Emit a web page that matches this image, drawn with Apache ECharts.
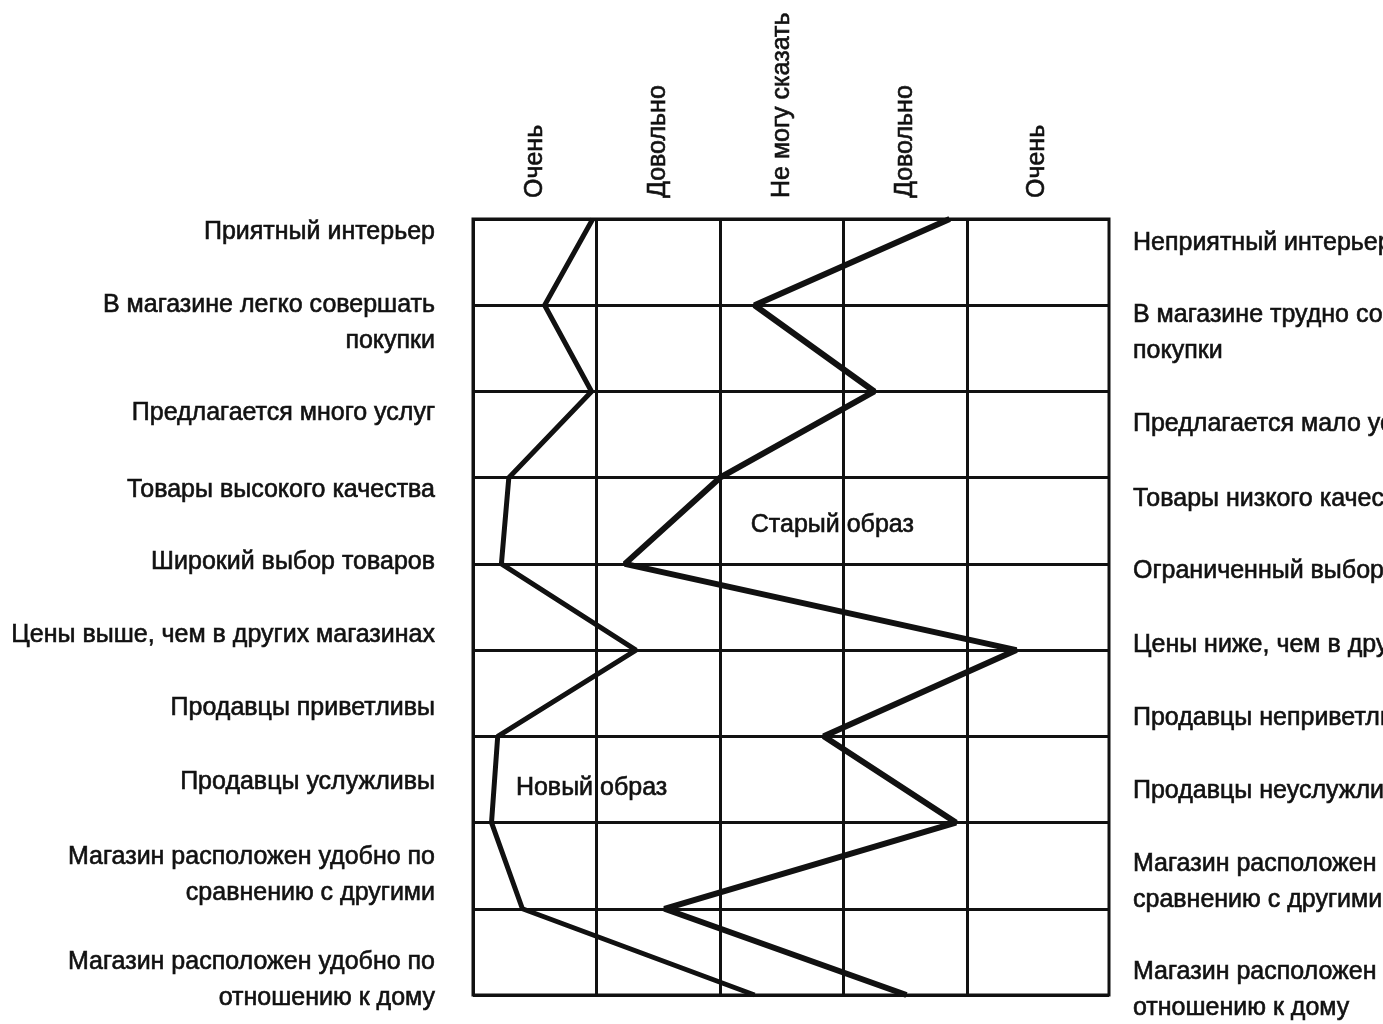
<!DOCTYPE html>
<html>
<head>
<meta charset="utf-8">
<script src="https://cdn.jsdelivr.net/npm/echarts@6/dist/echarts.min.js"></script>
<style>
  html, body { margin: 0; padding: 0; background: #fff; }
  #chart { width: 1383px; height: 1024px; }
</style>
</head>
<body>
<div id="chart"></div>
<script>
// scale headings (columns, left to right)
const scaleLabels = ['Очень', 'Довольно', 'Не могу сказать', 'Довольно', 'Очень'];

// attribute pairs, top to bottom
const leftNames = [
    'Приятный интерьер',
    'В магазине легко совершать\nпокупки',
    'Предлагается много услуг',
    'Товары высокого качества',
    'Широкий выбор товаров',
    'Цены выше, чем в других магазинах',
    'Продавцы приветливы',
    'Продавцы услужливы',
    'Магазин расположен удобно по\nсравнению с другими',
    'Магазин расположен удобно по\nотношению к дому'
];
const rightNames = [
    'Неприятный интерьер',
    'В магазине трудно совершать\nпокупки',
    'Предлагается мало услуг',
    'Товары низкого качества',
    'Ограниченный выбор товаров',
    'Цены ниже, чем в других магазинах',
    'Продавцы неприветливы',
    'Продавцы неуслужливы',
    'Магазин расположен неудобно по\nсравнению с другими',
    'Магазин расположен неудобно по\nотношению к дому'
];

// profile position of each row, in column units (0 = left edge)
const newImage = [0.97, 0.58, 0.96, 0.29, 0.23, 1.32, 0.20, 0.15, 0.40, 2.28];
const oldImage = [3.86, 2.28, 3.25, 2.00, 1.23, 4.40, 2.84, 3.91, 1.55, 3.51];

const seriesNames = ['Новый образ', 'Старый образ'];

// where the text sits in the printed figure (row units)
const leftLabelAt = [0.15, 1.21, 2.25, 3.14, 3.98, 4.83, 5.67, 6.53, 7.61, 8.83];
const rightLabelAt = [0.28, 1.32, 2.38, 3.25, 4.08, 4.94, 5.79, 6.64, 7.69, 8.94];
const headAt = [0.5, 1.5, 2.5, 3.5, 4.57];

const FONT = "'Liberation Sans', Arial, sans-serif";
const INK = '#111';

// slightly heavier type, like the printed figure
const inkText = { color: INK, fontFamily: FONT, fontSize: 25, textBorderColor: INK, textBorderWidth: 0.6 };

const nearest = (arr, v) => {
    let best = 0;
    arr.forEach((a, i) => { if (Math.abs(a - v) < Math.abs(arr[best] - v)) best = i; });
    return best;
};

const sideAxis = (pos, at, names, margin) => ({
    type: 'value',
    inverse: true,
    position: pos,
    min: 0,
    max: 9,
    axisLine: { show: false },
    axisTick: { show: false },
    splitLine: { show: false },
    axisLabel: Object.assign({
        customValues: at,
        formatter: (v) => names[nearest(at, v)],
        showMinLabel: true,
        showMaxLabel: true,
        hideOverlap: false,
        margin: margin,
        lineHeight: 36
    }, inkText)
});

const getOption = () => {
    return {
        animation: false,
        backgroundColor: '#fff',
        textStyle: { fontFamily: FONT },
        grid: {
            left: 473, right: 274, top: 219, bottom: 29,
            containLabel: false,
            outerBoundsMode: 'none',
            show: true, borderColor: INK, borderWidth: 3, backgroundColor: 'transparent'
        },
        xAxis: {
            type: 'value',
            position: 'top',
            min: 0,
            max: 5.15,
            interval: 1,
            axisLine: { show: false },
            axisTick: { show: false, customValues: [0, 1, 2, 3, 4] },
            splitLine: { show: true, lineStyle: { color: INK, width: 3 } },
            axisLabel: Object.assign({
                customValues: headAt,
                formatter: (v) => scaleLabels[nearest(headAt, v)],
                showMinLabel: true,
                showMaxLabel: true,
                rotate: 90,
                margin: 21
            }, inkText)
        },
        yAxis: [
            {
                type: 'value',
                inverse: true,
                min: 0,
                max: 9,
                interval: 1,
                axisLine: { show: false },
                axisTick: { show: false },
                axisLabel: { show: false },
                splitLine: { show: true, lineStyle: { color: INK, width: 3 } }
            },
            sideAxis('left', leftLabelAt, leftNames, 38),
            sideAxis('right', rightLabelAt, rightNames, 24)
        ],
        series: [
            {
                name: seriesNames[0],
                type: 'line',
                data: newImage.map((v, i) => [v, i]),
                symbol: 'none',
                lineStyle: { color: INK, width: 5 },
                markPoint: {
                    symbol: 'circle',
                    symbolSize: 0,
                    label: Object.assign({ show: true, formatter: seriesNames[0] }, inkText),
                    data: [{ coord: [0.96, 6.6] }]
                }
            },
            {
                name: seriesNames[1],
                type: 'line',
                data: oldImage.map((v, i) => [v, i]),
                symbol: 'none',
                lineStyle: { color: INK, width: 6 },
                markPoint: {
                    symbol: 'circle',
                    symbolSize: 0,
                    label: Object.assign({ show: true, formatter: seriesNames[1] }, inkText),
                    data: [{ coord: [2.91, 3.55] }]
                }
            }
        ]
    };
};

const initChart = () => {
    const chart = echarts.init(document.getElementById('chart'));
    chart.setOption(getOption());
};

window.addEventListener('load', () => {
    initChart();
});
</script>
</body>
</html>
